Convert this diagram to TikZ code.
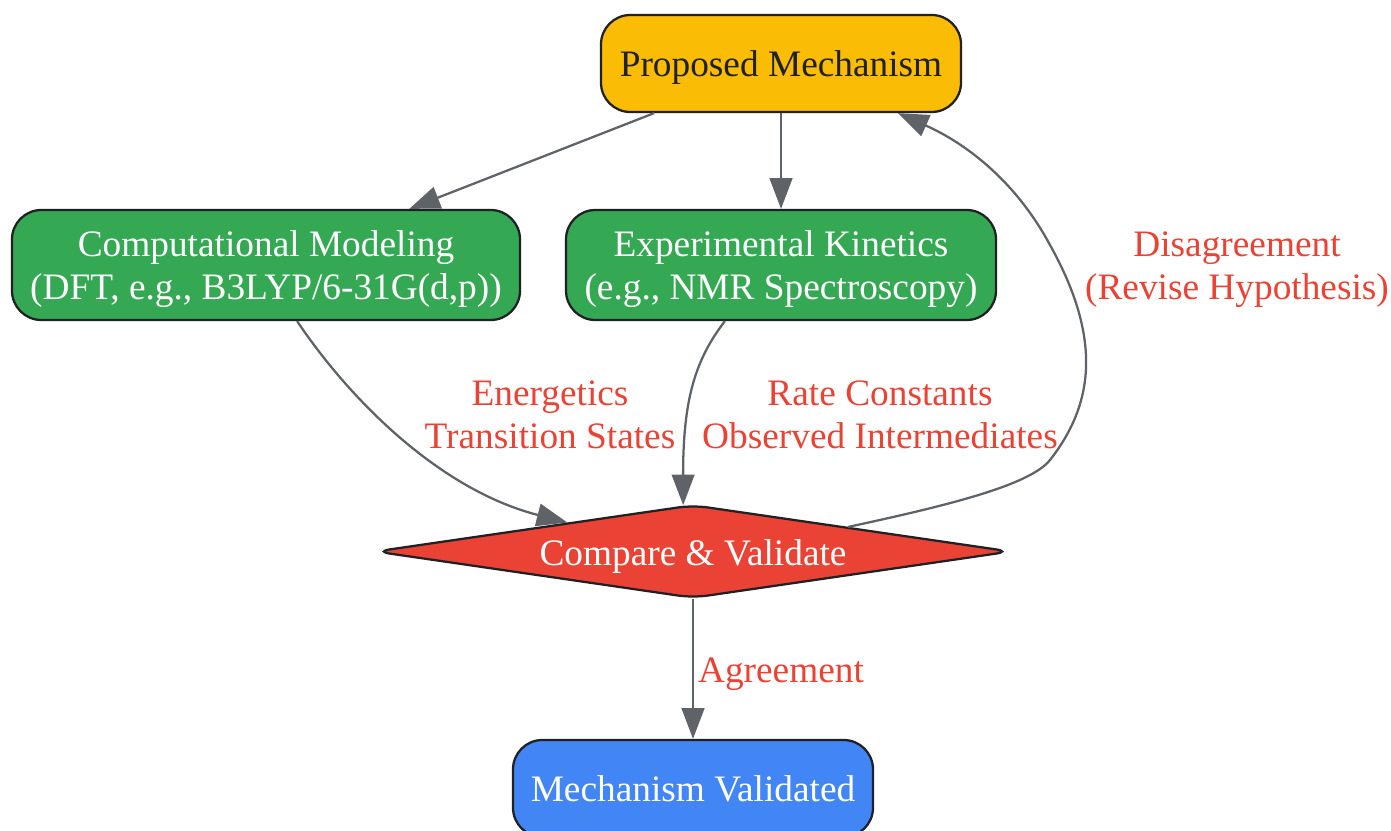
\documentclass[tikz,border=0pt]{standalone}
\usepackage{fontspec}
\setmainfont{Liberation Serif}
\usetikzlibrary{arrows.meta,calc,shapes.geometric}
\definecolor{cyellow}{HTML}{FBBC05}
\definecolor{cgreen}{HTML}{34A853}
\definecolor{cred}{HTML}{EA4335}
\definecolor{cblue}{HTML}{4285F4}
\definecolor{cborder}{HTML}{202124}
\definecolor{carrow}{HTML}{5F6368}
\definecolor{clabel}{HTML}{EA4335}
\newcommand\nodefont{\fontsize{28pt}{32.5pt}\selectfont}
\begin{document}
\begin{tikzpicture}[x=0.75pt,y=-0.75pt,
  box/.style={draw=cborder, line width=1.7pt, rounded corners=22pt, align=center, font=\nodefont, inner sep=0pt, text depth=0pt},
  arr/.style={draw=carrow, line width=1.7pt, -{Triangle[length=23pt,width=17pt]}},
  lbl/.style={text=clabel, font=\nodefont, align=center}]
\useasboundingbox (0,0) rectangle (1391,831);
\node[box, fill=cyellow, text=cborder, minimum width=270pt, minimum height=72.75pt] (prop) at (781,63.5) {Proposed Mechanism};
\node[box, fill=cgreen, text=white, minimum width=381pt, minimum height=82.5pt] (comp) at (266,265) {Computational Modeling\\(DFT, e.g., B3LYP/6-31G(d,p))};
\node[box, fill=cgreen, text=white, minimum width=322.5pt, minimum height=82.5pt] (exp) at (781,265) {Experimental Kinetics\\(e.g., NMR Spectroscopy)};
\node[diamond, draw=cborder, line width=1.7pt, fill=cred, text=white, font=\nodefont, inner sep=0pt, rounded corners=11pt, minimum width=477pt, minimum height=70pt] (dia) at (693,551.5) {\raisebox{-10.5pt}[0pt][0pt]{\makebox[0pt]{Compare \& Validate}}};
\node[box, fill=cblue, text=white, minimum width=270pt, minimum height=72.75pt] (mech) at (693,788.5) {Mechanism Validated};

\draw[arr] (prop) -- (comp);
\draw[arr] (prop.south) -- (exp.north);
\draw[arr] (comp.-61) .. controls (350,400) and (440,490) .. (dia.167);
\draw[arr] (exp.-135) .. controls (695,360) and (683,400) .. (dia.102);
\draw[arr] (dia.9) .. controls (950,505) and (1030,485) .. (1050,460)
  .. controls (1093,405) and (1103,340) .. (1050,245)
  .. controls (1015,180) and (965,143) .. (prop.-23);
\draw[arr] (dia.south) -- (mech.north);

\node[lbl] (l1) at (550,415) {Energetics\\Transition States};
\node[lbl] (l2) at (880,415) {Rate Constants\\Observed Intermediates};
\node[lbl] (l3) at (1237,270) {Disagreement\\(Revise Hypothesis)};
\node[lbl] (l4) at (781,674) {Agreement};
\end{tikzpicture}
\end{document}
